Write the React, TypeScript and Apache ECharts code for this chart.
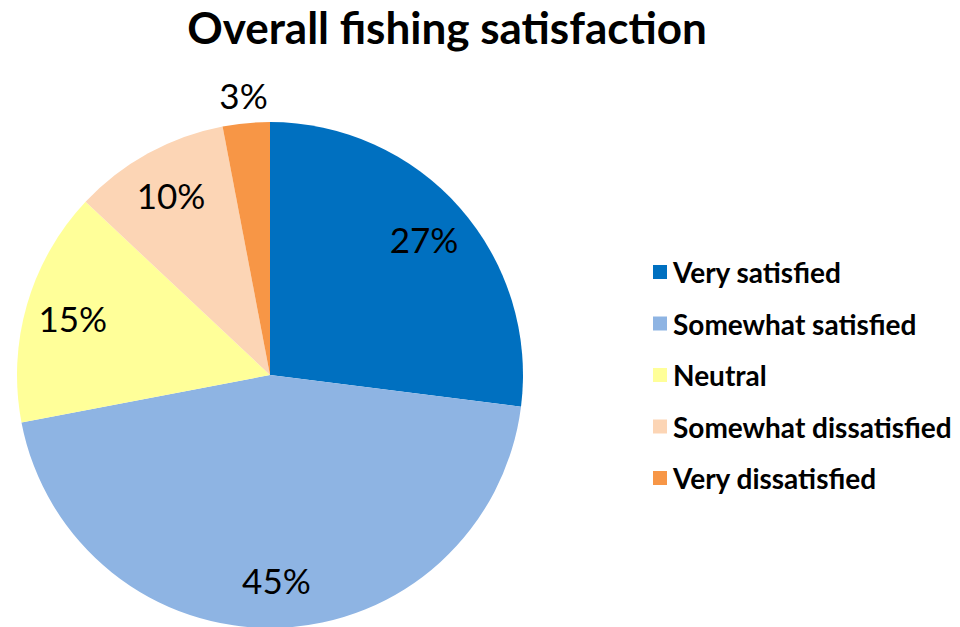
import React, { useEffect, useRef } from "react";
import * as echarts from "echarts";

const categories = [
  "Very satisfied",
  "Somewhat satisfied",
  "Neutral",
  "Somewhat dissatisfied",
  "Very dissatisfied",
];
const values = [27, 45, 15, 10, 3];
const colors = ["#0070C0", "#8EB4E3", "#FFFF99", "#FCD5B5", "#F79646"];
const outsideLabel = ["Very dissatisfied"];

const FONT = "Lato, 'Open Sans', sans-serif";

export default function App() {
  const ref = useRef<HTMLDivElement>(null);
  useEffect(() => {
    if (!ref.current) return;
    const chart = echarts.init(ref.current, undefined, { renderer: "svg" });
    const R = 253;
    const center = [270, 375];
    const baseData = categories.map((name, i) => ({
      name,
      value: values[i],
      itemStyle: { color: colors[i] },
    }));
    const labelStyle = {
      color: "#000",
      fontFamily: FONT,
      fontSize: 35,
      formatter: "{c}%",
    };
    chart.setOption({
      animation: false,
      backgroundColor: "#fff",
      title: {
        text: "Overall fishing satisfaction",
        left: 442,
        top: 0,
        textAlign: "center",
        textStyle: {
          fontFamily: FONT,
          fontWeight: "bold",
          fontSize: 44,
          color: "#000",
        },
      },
      legend: {
        orient: "vertical",
        left: 648,
        top: 252,
        itemWidth: 14,
        itemHeight: 14,
        itemGap: 21.5,
        icon: "rect",
        selectedMode: false,
        data: categories,
        textStyle: {
          fontFamily: FONT,
          fontWeight: "bold",
          fontSize: 28,
          color: "#000",
          lineHeight: 30,
          padding: [0, 0, 0, 1],
        },
      },
      series: [
        {
          type: "pie",
          center,
          radius: R,
          startAngle: 90,
          clockwise: true,
          label: { show: false },
          labelLine: { show: false },
          emphasis: { disabled: true },
          data: baseData,
        },
        {
          type: "pie",
          center,
          radius: [R * 0.6, R],
          startAngle: 90,
          clockwise: true,
          silent: true,
          itemStyle: { color: "transparent" },
          label: { show: true, position: "inside", ...labelStyle },
          labelLine: { show: false },
          emphasis: { disabled: true },
          legendHoverLink: false,
          data: categories.map((name, i) => ({
            name: name + " ",
            value: values[i],
            label: { show: !outsideLabel.includes(name) },
          })),
        },
        {
          type: "pie",
          center,
          radius: [R, R * 1.2],
          startAngle: 90,
          clockwise: true,
          silent: true,
          itemStyle: { color: "transparent" },
          label: { show: true, position: "inside", ...labelStyle },
          labelLine: { show: false },
          emphasis: { disabled: true },
          data: categories.map((name, i) => ({
            name: name + "  ",
            value: values[i],
            label: { show: outsideLabel.includes(name) },
          })),
        },
      ],
    });
    return () => chart.dispose();
  }, []);
  return (
    <div
      ref={ref}
      style={{ position: "absolute", left: 0, top: 0, width: 960, height: 627 }}
    />
  );
}
